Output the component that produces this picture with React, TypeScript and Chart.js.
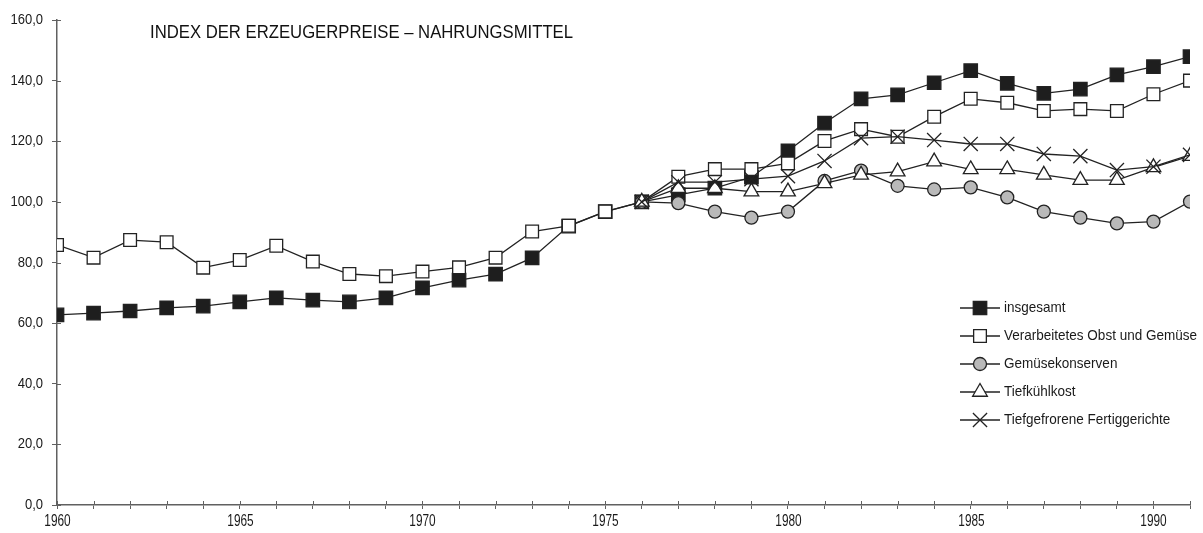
import React, { useEffect, useRef } from "react";
import { Chart, registerables } from "chart.js";

Chart.register(...registerables);

const years = [1960,1961,1962,1963,1964,1965,1966,1967,1968,1969,1970,1971,1972,1973,1974,1975,1976,1977,1978,1979,1980,1981,1982,1983,1984,1985,1986,1987,1988,1989,1990,1991];
const insgesamt = [62.7,63.3,64.0,65.0,65.6,67.0,68.3,67.6,67.0,68.3,71.6,74.2,76.2,81.5,92.0,96.8,100,102.3,104.5,108.2,116.8,126.0,134.0,135.3,139.3,143.3,139.1,135.8,137.2,141.9,144.6,147.9];
const verarbeitet = [85.8,81.6,87.4,86.7,78.3,80.8,85.5,80.3,76.2,75.5,77.0,78.4,81.6,90.2,92.1,96.8,100,108.3,110.8,110.8,112.7,120.1,124.0,121.5,128.1,134.0,132.7,130.0,130.6,130.0,135.5,140.0];
const gemuese = [null,null,null,null,null,null,null,null,null,null,null,null,null,null,null,null,100,99.6,96.8,94.8,96.8,106.9,110.3,105.3,104.1,104.8,101.5,96.8,94.8,92.9,93.5,100.1];
const tiefkuehl = [null,null,null,null,null,null,null,null,null,null,null,null,null,null,null,null,100,104.5,104.5,103.4,103.4,106.1,108.9,110.0,113.3,110.7,110.7,108.9,107.2,107.2,111.4,115.1];
const fertig = [null,null,null,null,null,null,null,null,null,null,null,null,null,null,null,null,100,106.5,106.5,107.5,108.5,113.5,121.0,121.5,120.4,119.1,119.1,115.8,115.1,110.5,111.6,115.5];
const seriesNames = ["insgesamt","Verarbeitetes Obst und Gemüse","Gemüsekonserven","Tiefkühlkost","Tiefgefrorene Fertiggerichte"];
const titleText = "INDEX DER ERZEUGERPREISE – NAHRUNGSMITTEL";

const FONT = "'Liberation Sans', Arial, sans-serif";
const LINE = "#222222";
const AXIS = "#606060";

const styles = [
  { pointStyle: "rect", radius: 9.5, fill: "#1e1e1e" },
  { pointStyle: "rect", radius: 9, fill: "#ffffff" },
  { pointStyle: "circle", radius: 6.5, fill: "#b9b9b9" },
  { pointStyle: "triangle", radius: 8.5, fill: "#ffffff" },
  { pointStyle: "crossRot", radius: 10, fill: "#ffffff" },
];

function condensedText(ctx: CanvasRenderingContext2D, text: string, x: number, y: number, size: number, sx: number, align: "left" | "right" | "center", color = "#1a1a1a") {
  ctx.save();
  ctx.font = `${size}px ${FONT}`;
  ctx.fillStyle = color;
  ctx.textBaseline = "middle";
  ctx.textAlign = align;
  ctx.translate(x, y);
  ctx.scale(sx, 1);
  ctx.fillText(text, 0, 0);
  ctx.restore();
}

function drawMarker(ctx: CanvasRenderingContext2D, style: string, r: number, x: number, y: number) {
  ctx.beginPath();
  if (style === "rect") {
    const s = Math.SQRT1_2 * r;
    ctx.rect(x - s, y - s, 2 * s, 2 * s);
    ctx.fill();
    ctx.stroke();
  } else if (style === "circle") {
    ctx.arc(x, y, r, 0, Math.PI * 2);
    ctx.fill();
    ctx.stroke();
  } else if (style === "triangle") {
    let a = 0;
    ctx.moveTo(x + Math.sin(a) * r, y - Math.cos(a) * r);
    a += (2 * Math.PI) / 3;
    ctx.lineTo(x + Math.sin(a) * r, y - Math.cos(a) * r);
    a += (2 * Math.PI) / 3;
    ctx.lineTo(x + Math.sin(a) * r, y - Math.cos(a) * r);
    ctx.closePath();
    ctx.fill();
    ctx.stroke();
  } else {
    const o = r * Math.SQRT1_2;
    ctx.moveTo(x - o, y - o);
    ctx.lineTo(x + o, y + o);
    ctx.moveTo(x - o, y + o);
    ctx.lineTo(x + o, y - o);
    ctx.stroke();
  }
}

const overlayPlugin = {
  id: "overlay",
  afterDraw(chart: any) {
    const ctx = chart.ctx;
    const ca = chart.chartArea;
    const xs = chart.scales.x;
    const ys = chart.scales.y;
    ctx.save();
    // inner halves of ticks
    ctx.strokeStyle = AXIS;
    ctx.lineWidth = 1;
    xs.ticks.forEach((t: any) => {
      const px = Math.round(xs.getPixelForValue(t.value)) + 0.5;
      ctx.beginPath();
      ctx.moveTo(px, ca.bottom);
      ctx.lineTo(px, ca.bottom - 4);
      ctx.stroke();
      if (t.value % 5 === 0) {
        condensedText(ctx, String(t.value), px, ca.bottom + 17, 16, 0.74, "center");
      }
    });
    ys.ticks.forEach((t: any) => {
      const py = Math.round(ys.getPixelForValue(t.value)) + 0.5;
      ctx.beginPath();
      ctx.moveTo(ca.left, py);
      ctx.lineTo(ca.left + 4, py);
      ctx.stroke();
      condensedText(ctx, Number(t.value).toFixed(1).replace(".", ","), ca.left - 14, py, 14, 0.93, "right");
    });
    // title
    ctx.font = `18px ${FONT}`;
    const tw = ctx.measureText(titleText).width;
    condensedText(ctx, titleText, 150, 33, 18, 423 / tw, "left", "#111");
    // legend
    const lx0 = 960, lx1 = 1000, tx = 1004;
    const rowY = [308, 336, 364, 392, 420];
    ctx.font = `15px ${FONT}`;
    const lw = ctx.measureText(seriesNames[1]).width;
    const lsx = 193 / lw;
    chart.data.datasets.forEach((ds: any, i: number) => {
      const y = rowY[i];
      ctx.strokeStyle = LINE;
      ctx.lineWidth = 1.3;
      ctx.beginPath();
      ctx.moveTo(lx0, y);
      ctx.lineTo(lx1, y);
      ctx.stroke();
      const s = styles[i];
      ctx.fillStyle = s.fill;
      ctx.strokeStyle = LINE;
      ctx.lineWidth = 1.3;
      drawMarker(ctx, s.pointStyle, s.radius, 980, y);
      condensedText(ctx, ds.label, tx, y, 15, lsx, "left", "#1a1a1a");
    });
    ctx.restore();
  },
};

export default function App() {
  const ref = useRef<HTMLCanvasElement | null>(null);
  useEffect(() => {
    if (!ref.current) return;
    const all = [insgesamt, verarbeitet, gemuese, tiefkuehl, fertig];
    const datasets = all.map((vals, i) => ({
      label: seriesNames[i],
      data: years.map((yr, j) => ({ x: yr, y: vals[j] })),
      borderColor: LINE,
      borderWidth: 1.3,
      pointStyle: styles[i].pointStyle,
      pointRadius: styles[i].radius,
      pointHoverRadius: styles[i].radius,
      pointBackgroundColor: styles[i].fill,
      pointBorderColor: LINE,
      pointBorderWidth: 1.3,
      fill: false,
      tension: 0,
      spanGaps: false,
      order: 5 - i,
    }));
    const chart = new Chart(ref.current, {
      type: "line",
      data: { datasets } as any,
      options: {
        animation: false,
        responsive: false,
        maintainAspectRatio: false,
        layout: { padding: { top: 20, right: 13, left: 0, bottom: 0 } },
        plugins: { legend: { display: false }, tooltip: { enabled: false }, title: { display: false } },
        scales: {
          x: {
            type: "linear",
            min: 1960,
            max: 1991,
            afterFit: (s: any) => { s.height = 28; },
            ticks: { stepSize: 1, autoSkip: false, maxRotation: 0, display: false },
            grid: { drawOnChartArea: false, drawTicks: true, tickLength: 4, color: AXIS, tickColor: AXIS },
            border: { display: true, color: AXIS, width: 1.5 },
          },
          y: {
            min: 0,
            max: 160,
            afterFit: (s: any) => { s.width = 57; },
            ticks: { stepSize: 20, display: false },
            grid: { drawOnChartArea: false, drawTicks: true, tickLength: 5, color: AXIS, tickColor: AXIS },
            border: { display: true, color: AXIS, width: 1.5 },
          },
        },
      } as any,
      plugins: [overlayPlugin],
    });
    return () => chart.destroy();
  }, []);
  return (
    <div style={{ position: "fixed", left: 0, top: 0, width: 1203, height: 533, background: "#fff" }}>
      <canvas ref={ref} width={1203} height={533} style={{ width: 1203, height: 533, display: "block" }} />
    </div>
  );
}
